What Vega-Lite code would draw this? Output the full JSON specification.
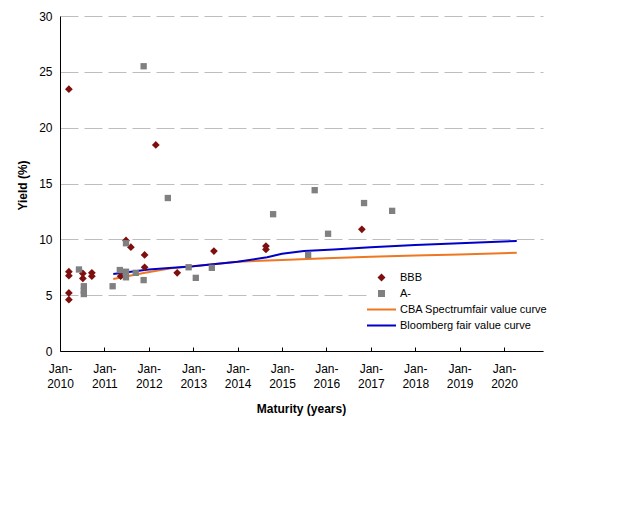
{
  "$schema": "https://vega.github.io/schema/vega-lite/v6.json",
  "description": "Yield vs maturity, BBB and A- bonds with fair value curves",
  "width": 483,
  "height": 335,
  "autosize": "none",
  "padding": {"left": 60, "top": 16, "right": 97, "bottom": 161},
  "background": "white",
  "config": {
    "view": {"stroke": null},
    "font": "Liberation Sans",
    "axis": {
      "labelFont": "Liberation Sans",
      "titleFont": "Liberation Sans",
      "labelColor": "#000000",
      "titleColor": "#000000",
      "domainColor": "#000000",
      "tickColor": "#000000",
      "labelFontSize": 12,
      "titleFontSize": 12,
      "titleFontWeight": "bold"
    }
  },
  "data": {
    "values": [
      {"series": "BBB", "date": "2010-03-15", "yield": 23.45},
      {"series": "BBB", "date": "2010-03-15", "yield": 7.1},
      {"series": "BBB", "date": "2010-03-15", "yield": 6.75},
      {"series": "BBB", "date": "2010-03-15", "yield": 5.2},
      {"series": "BBB", "date": "2010-03-15", "yield": 4.6},
      {"series": "BBB", "date": "2010-07-08", "yield": 6.95},
      {"series": "BBB", "date": "2010-07-08", "yield": 6.5},
      {"series": "BBB", "date": "2010-09-20", "yield": 7.0},
      {"series": "BBB", "date": "2010-09-20", "yield": 6.7},
      {"series": "BBB", "date": "2011-05-15", "yield": 6.7},
      {"series": "BBB", "date": "2011-06-28", "yield": 9.9},
      {"series": "BBB", "date": "2011-08-07", "yield": 9.3},
      {"series": "BBB", "date": "2011-11-28", "yield": 8.6},
      {"series": "BBB", "date": "2011-11-28", "yield": 7.5},
      {"series": "BBB", "date": "2012-02-28", "yield": 18.45},
      {"series": "BBB", "date": "2012-08-22", "yield": 7.0},
      {"series": "BBB", "date": "2013-06-20", "yield": 8.95},
      {"series": "BBB", "date": "2014-08-22", "yield": 9.4},
      {"series": "BBB", "date": "2014-08-22", "yield": 9.1},
      {"series": "BBB", "date": "2016-10-19", "yield": 10.9},
      {"series": "A-", "date": "2010-06-06", "yield": 7.3},
      {"series": "A-", "date": "2010-07-16", "yield": 5.8},
      {"series": "A-", "date": "2010-07-16", "yield": 5.4},
      {"series": "A-", "date": "2010-07-16", "yield": 5.1},
      {"series": "A-", "date": "2011-03-10", "yield": 5.8},
      {"series": "A-", "date": "2011-05-08", "yield": 7.25},
      {"series": "A-", "date": "2011-06-28", "yield": 9.65},
      {"series": "A-", "date": "2011-06-28", "yield": 7.1},
      {"series": "A-", "date": "2011-06-28", "yield": 6.6},
      {"series": "A-", "date": "2011-09-16", "yield": 7.0},
      {"series": "A-", "date": "2011-11-20", "yield": 6.35},
      {"series": "A-", "date": "2011-11-20", "yield": 25.5},
      {"series": "A-", "date": "2012-06-06", "yield": 13.7},
      {"series": "A-", "date": "2012-11-24", "yield": 7.5},
      {"series": "A-", "date": "2013-01-22", "yield": 6.55},
      {"series": "A-", "date": "2013-06-03", "yield": 7.45},
      {"series": "A-", "date": "2014-10-20", "yield": 12.25},
      {"series": "A-", "date": "2015-08-04", "yield": 8.6},
      {"series": "A-", "date": "2015-09-27", "yield": 14.4},
      {"series": "A-", "date": "2016-01-15", "yield": 10.5},
      {"series": "A-", "date": "2016-11-06", "yield": 13.25},
      {"series": "A-", "date": "2017-06-25", "yield": 12.55},
      {"series": "CBA Spectrumfair value curve", "date": "2011-03-15", "yield": 6.45},
      {"series": "CBA Spectrumfair value curve", "date": "2011-12-01", "yield": 7.0},
      {"series": "CBA Spectrumfair value curve", "date": "2012-07-01", "yield": 7.4},
      {"series": "CBA Spectrumfair value curve", "date": "2013-01-01", "yield": 7.6},
      {"series": "CBA Spectrumfair value curve", "date": "2014-01-01", "yield": 8.0},
      {"series": "CBA Spectrumfair value curve", "date": "2015-01-01", "yield": 8.15},
      {"series": "CBA Spectrumfair value curve", "date": "2016-01-01", "yield": 8.3},
      {"series": "CBA Spectrumfair value curve", "date": "2017-01-01", "yield": 8.45},
      {"series": "CBA Spectrumfair value curve", "date": "2018-01-01", "yield": 8.55},
      {"series": "CBA Spectrumfair value curve", "date": "2019-01-01", "yield": 8.65},
      {"series": "CBA Spectrumfair value curve", "date": "2020-04-15", "yield": 8.8},
      {"series": "Bloomberg fair value curve", "date": "2011-03-15", "yield": 6.9},
      {"series": "Bloomberg fair value curve", "date": "2012-01-01", "yield": 7.3},
      {"series": "Bloomberg fair value curve", "date": "2013-01-01", "yield": 7.6},
      {"series": "Bloomberg fair value curve", "date": "2014-01-01", "yield": 8.0},
      {"series": "Bloomberg fair value curve", "date": "2014-09-01", "yield": 8.4},
      {"series": "Bloomberg fair value curve", "date": "2015-01-01", "yield": 8.7},
      {"series": "Bloomberg fair value curve", "date": "2015-07-01", "yield": 8.95},
      {"series": "Bloomberg fair value curve", "date": "2016-03-01", "yield": 9.1},
      {"series": "Bloomberg fair value curve", "date": "2017-01-01", "yield": 9.3},
      {"series": "Bloomberg fair value curve", "date": "2018-01-01", "yield": 9.5},
      {"series": "Bloomberg fair value curve", "date": "2019-01-01", "yield": 9.65},
      {"series": "Bloomberg fair value curve", "date": "2020-04-15", "yield": 9.85}
    ]
  },
  "encoding": {
    "x": {
      "field": "date",
      "type": "temporal",
      "scale": {
        "type": "utc",
        "domain": [
          {"year": 2010, "month": 1, "date": 1, "utc": true},
          {"year": 2020, "month": 11, "date": 17, "utc": true}
        ]
      },
      "axis": {
        "title": "Maturity (years)",
        "values": [
          {"year": 2010, "month": 1, "date": 1, "utc": true},
          {"year": 2011, "month": 1, "date": 1, "utc": true},
          {"year": 2012, "month": 1, "date": 1, "utc": true},
          {"year": 2013, "month": 1, "date": 1, "utc": true},
          {"year": 2014, "month": 1, "date": 1, "utc": true},
          {"year": 2015, "month": 1, "date": 1, "utc": true},
          {"year": 2016, "month": 1, "date": 1, "utc": true},
          {"year": 2017, "month": 1, "date": 1, "utc": true},
          {"year": 2018, "month": 1, "date": 1, "utc": true},
          {"year": 2019, "month": 1, "date": 1, "utc": true},
          {"year": 2020, "month": 1, "date": 1, "utc": true}
        ],
        "labelExpr": "['Jan-', utcFormat(datum.value, '%Y')]",
        "grid": false,
        "tickSize": -4,
        "labelPadding": 16,
        "labelLineHeight": 15,
        "labelBaseline": "top",
        "labelAngle": 0,
        "labelFlush": false,
        "labelOverlap": false,
        "titleX": 241,
        "titleY": 57,
        "titleBaseline": "middle"
      }
    },
    "y": {
      "field": "yield",
      "type": "quantitative",
      "scale": {"domain": [0, 30], "nice": false},
      "axis": {
        "title": "Yield (%)",
        "values": [0, 5, 10, 15, 20, 25, 30],
        "grid": true,
        "gridColor": "#BDBDBD",
        "gridDash": [18, 6],
        "ticks": false,
        "labelPadding": 8,
        "titleX": -38,
        "titleY": 169,
        "titleBaseline": "middle"
      }
    },
    "color": {
      "field": "series",
      "type": "nominal",
      "scale": {
        "domain": ["BBB", "A-", "CBA Spectrumfair value curve", "Bloomberg fair value curve"],
        "range": ["#7F0F0F", "#808080", "#EE7722", "#0000C8"]
      },
      "legend": {
        "title": null,
        "orient": "none",
        "legendX": 310,
        "legendY": 250,
        "fillColor": "white",
        "padding": 6,
        "symbolSize": 64,
        "labelOffset": 13,
        "rowPadding": 4,
        "labelFont": "Liberation Sans",
        "labelFontSize": 11,
        "labelColor": "#000000",
        "encode": {
          "symbols": {
            "update": {
              "shape": {"signal": "datum.value === 'BBB' ? 'diamond' : datum.value === 'A-' ? 'square' : 'stroke'"},
              "size": {"signal": "datum.value === 'BBB' ? 64 : datum.value === 'A-' ? 49 : 841"},
              "fill": {"scale": "color", "field": "value"},
              "stroke": {"scale": "color", "field": "value"},
              "strokeWidth": {"signal": "datum.value === 'BBB' || datum.value === 'A-' ? 0 : 2"},
              "opacity": {"value": 1},
              "fillOpacity": {"value": 1},
              "strokeOpacity": {"value": 1}
            }
          }
        }
      }
    }
  },
  "layer": [
    {
      "transform": [{"filter": "datum.series === 'CBA Spectrumfair value curve'"}],
      "mark": {"type": "line", "strokeWidth": 2}
    },
    {
      "transform": [{"filter": "datum.series === 'Bloomberg fair value curve'"}],
      "mark": {"type": "line", "strokeWidth": 2}
    },
    {
      "transform": [{"filter": "datum.series === 'BBB'"}],
      "mark": {"type": "point", "shape": "diamond", "filled": true, "size": 60, "opacity": 1}
    },
    {
      "transform": [{"filter": "datum.series === 'A-'"}],
      "mark": {"type": "point", "shape": "square", "filled": true, "size": 40, "opacity": 1}
    }
  ]
}
